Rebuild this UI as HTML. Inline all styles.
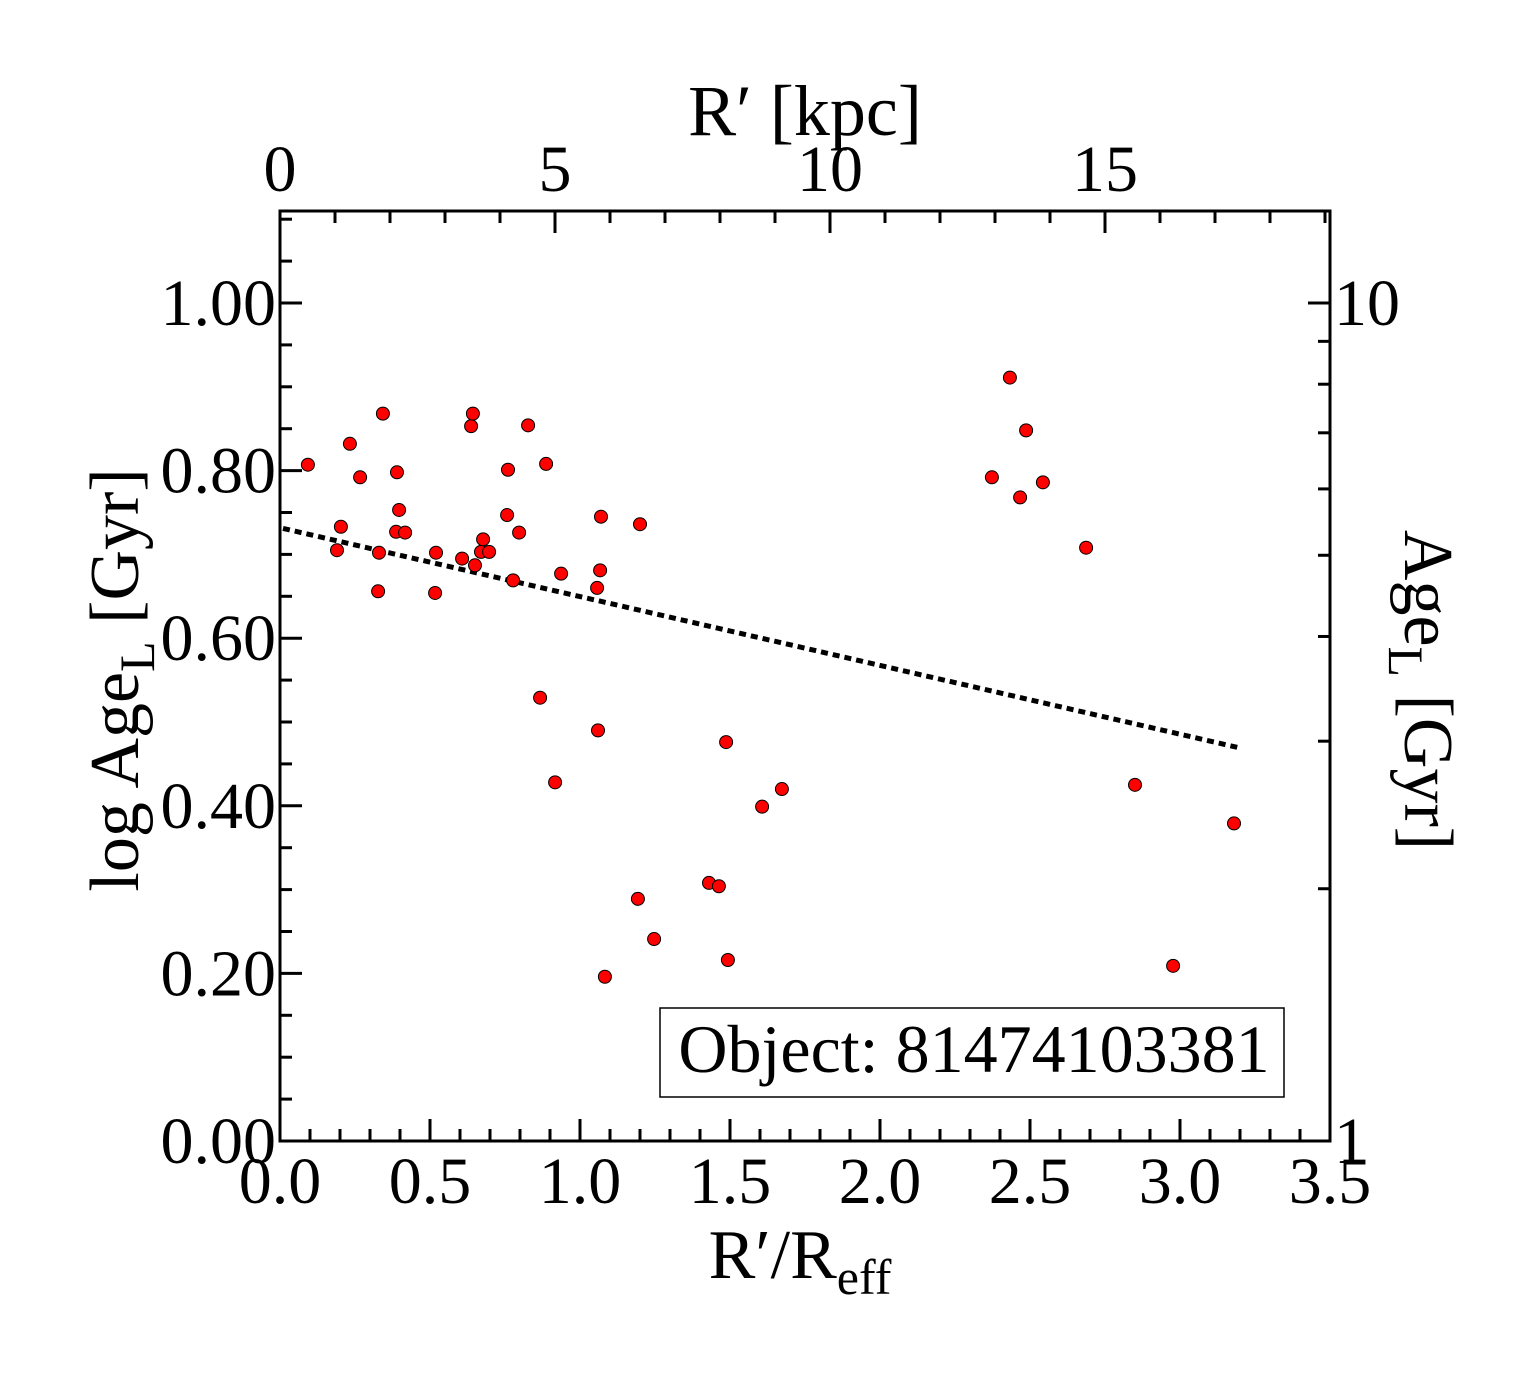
<!DOCTYPE html>
<html><head><meta charset="utf-8"><style>
html,body{margin:0;padding:0;background:#fff;}
svg{display:block;}
text{font-family:"Liberation Serif",serif;fill:#000;}
</style></head><body>
<svg id="chart" width="1540" height="1375" viewBox="0 0 1540 1375">
<g id="axes"></g>
<g id="marks"></g>
</svg>
<script>
const xVals = [0.093,0.19,0.203,0.233,0.267,0.327,0.33,0.343,0.387,0.39,0.397,0.417,0.517,0.52,0.607,0.637,0.643,0.65,0.67,0.677,0.697,0.757,0.76,0.777,0.797,0.827,0.867,0.887,0.917,0.937,1.057,1.06,1.067,1.07,1.083,1.193,1.2,1.247,1.43,1.463,1.487,1.493,1.607,1.673,2.373,2.433,2.467,2.487,2.543,2.687,2.85,2.977,3.18];
const yVals = [0.807,0.705,0.733,0.832,0.792,0.656,0.702,0.868,0.727,0.798,0.753,0.726,0.654,0.702,0.695,0.853,0.868,0.687,0.703,0.718,0.703,0.747,0.801,0.669,0.726,0.854,0.529,0.808,0.428,0.677,0.660,0.490,0.681,0.745,0.196,0.289,0.736,0.241,0.308,0.304,0.476,0.216,0.399,0.420,0.792,0.911,0.768,0.848,0.786,0.708,0.425,0.209,0.379];
const fitX = [0.01, 3.2];
const fitY = [0.731, 0.469];
const xTickLabels = ["0.0","0.5","1.0","1.5","2.0","2.5","3.0","3.5"];
const yTickLabels = ["0.00","0.20","0.40","0.60","0.80","1.00"];
const topTickLabels = ["0","5","10","15"];
const rightTickLabels = ["1","10"];

const NS="http://www.w3.org/2000/svg";
const L=280,R=1330,T=211,B=1141;
const xS=v=>L+v*300;
const yS=v=>B-v*838;
const kS=k=>L+k*55;
const axes=document.getElementById('axes');
const marks=document.getElementById('marks');
function mk(tag,attrs,parent,txt){const e=document.createElementNS(NS,tag);for(const k in attrs)e.setAttribute(k,attrs[k]);if(txt!==undefined)e.textContent=txt;parent.appendChild(e);return e;}

let fr=mk('rect',{x:L,y:T,width:R-L,height:B-T,fill:'none',stroke:'#000','stroke-width':3},axes);



for(let i=0;i<=35;i++){const v=i/10;const x=xS(v);const maj=i%5===0;
 mk('line',{x1:x,x2:x,y1:B,y2:B-(maj?22:12),stroke:'#000','stroke-width':3},axes);}
xTickLabels.forEach(s=>{const v=parseFloat(s);
 const t=mk('text',{x:xS(v),y:B+62,'font-size':66,'text-anchor':'middle'},axes,s);
 
 });
for(let k=0;k<=19;k++){const x=kS(k);if(x>R)break;const maj=k%5===0;
 mk('line',{x1:x,x2:x,y1:T,y2:T+(maj?22:12),stroke:'#000','stroke-width':3},axes);}
topTickLabels.forEach(s=>{const k=parseFloat(s);
 const t=mk('text',{x:kS(k),y:T-20,'font-size':66,'text-anchor':'middle'},axes,s);
 
 });
for(let i=0;i<=22;i++){const v=i*0.05;const y=yS(v);if(y<T)break;const maj=i%4===0;
 mk('line',{x1:L,x2:L+(maj?22:12),y1:y,y2:y,stroke:'#000','stroke-width':3},axes);}
yTickLabels.forEach(s=>{const v=parseFloat(s);
 const t=mk('text',{x:L-4,y:yS(v)+22,'font-size':66,'text-anchor':'end'},axes,s);
 
 });
for(let a=1;a<=10;a++){const y=yS(Math.log10(a));const maj=(a===1||a===10);
 mk('line',{x1:R,x2:R-(maj?22:12),y1:y,y2:y,stroke:'#000','stroke-width':3},axes);}
rightTickLabels.forEach(s=>{const v=Math.log10(parseFloat(s));
 const t=mk('text',{x:R+4,y:yS(v)+22,'font-size':66,'text-anchor':'start'},axes,s);
 
 });

const fl=mk('line',{x1:xS(fitX[0]),y1:yS(fitY[0]),x2:xS(fitX[1]),y2:yS(fitY[1]),stroke:'#000','stroke-width':5,'stroke-dasharray':'7 5'},marks);



xVals.forEach((xv,i)=>{
 const c=mk('circle',{cx:xS(xv),cy:yS(yVals[i]),r:6.5,fill:'#ff0000',stroke:'#000','stroke-width':1},marks);
 
 
});
</script>
<svg style="position:absolute;left:0;top:0" width="1540" height="1375">
<text x="805" y="135" font-size="72" text-anchor="middle">R′ [kpc]</text>
<text x="800" y="1278" font-size="70" text-anchor="middle">R′/R<tspan font-size="50" dy="16">eff</tspan></text>
<text transform="translate(138,680) rotate(-90)" font-size="70" text-anchor="middle">log Age<tspan font-size="50" dy="16">L</tspan><tspan dy="-16"> [Gyr]</tspan></text>
<text transform="translate(1405,690) rotate(90)" font-size="70" text-anchor="middle">Age<tspan font-size="50" dy="16">L</tspan><tspan dy="-16"> [Gyr]</tspan></text>
<rect x="660" y="1008" width="624" height="89" fill="#fff" stroke="#000" stroke-width="1.5"/>
<text x="974" y="1072" font-size="68" text-anchor="middle">Object: 81474103381</text>
</svg>
</body></html>
